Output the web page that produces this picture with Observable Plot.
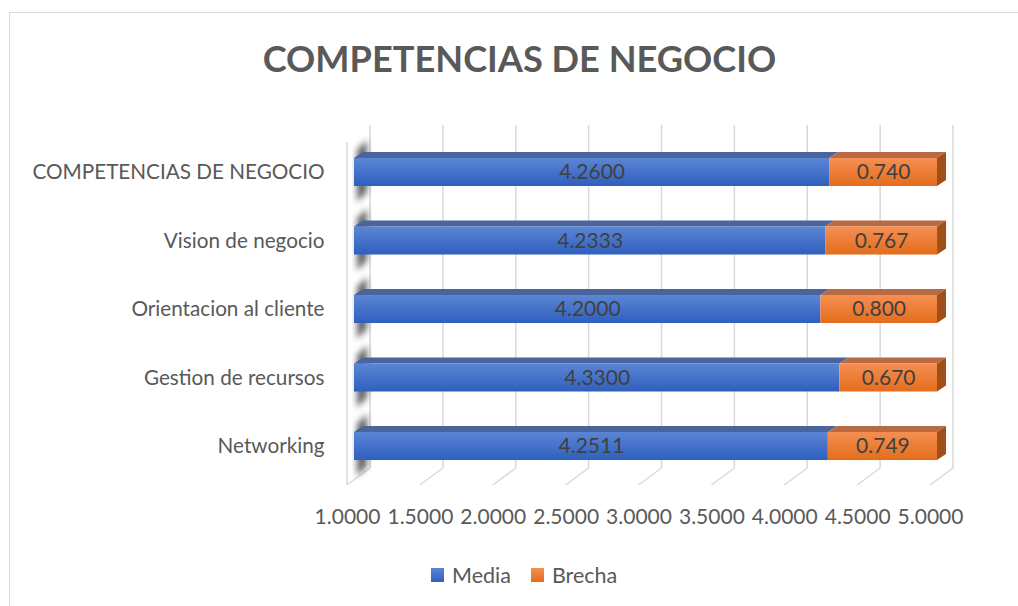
<!DOCTYPE html>
<html><head><meta charset="utf-8">
<script src="https://cdn.jsdelivr.net/npm/d3@7"></script>
<script src="https://cdn.jsdelivr.net/npm/@observablehq/plot@0.6"></script>
<style>
body{margin:0;background:#fff;font-family:Lato,"Liberation Sans",sans-serif;}
#wrap{position:relative;width:1018px;height:606px;overflow:hidden;background:#fff;}
#frame{position:absolute;left:9px;top:12px;width:1100px;height:700px;border-left:1.5px solid #d9d9d9;border-top:1.5px solid #d9d9d9;}
#title{position:absolute;top:35px;left:10px;width:1019px;text-align:center;font-weight:bold;font-size:36.2px;line-height:46px;color:#595959;}
#chart{position:absolute;left:0;top:100px;}
#legend{position:absolute;top:562px;left:431px;display:flex;align-items:center;font-size:21.5px;color:#595959;line-height:26px;}
#legend .sw{display:inline-block;width:13px;height:14px;margin-right:8px;}
#legend .it{display:flex;align-items:center;margin-right:20px;}
</style></head>
<body><div id="wrap"><div id="frame"></div><div id="title">COMPETENCIAS DE NEGOCIO</div><div id="chart"></div><div id="legend"></div></div>
<script>
const categories = ["COMPETENCIAS DE NEGOCIO","Vision de negocio","Orientacion al cliente","Gestion de recursos","Networking"];
const media = [4.2600, 4.2333, 4.2000, 4.3300, 4.2511];
const brecha = [0.740, 0.767, 0.800, 0.670, 0.749];
const seriesNames = ["Media","Brecha"];
const xTicks = [1.0,1.5,2.0,2.5,3.0,3.5,4.0,4.5,5.0];
const axisMin = 1.0, axisMax = 5.0;

const frontGrad = {Media:["#5b86d6","#2f5fbd"], Brecha:["#f58f52","#e36d1c"]};
const topColor = {Media:"#49659c", Brecha:"#b96a42"};
const sideColor = "#a14f19";
const DX = 9, DY = -6;          // bar depth offsets (px)
const WX = 16, WALLTOP = 25, FLOORBACK = 368, FX = -23, FY = 17; // wall geometry (px)

const segs = categories.flatMap((c,i)=>[
  {cat:c, series:"Media", x1:axisMin, x2:media[i], label:d3.format(".4f")(media[i])},
  {cat:c, series:"Brecha", x1:media[i], x2:media[i]+brecha[i], label:d3.format(".3f")(brecha[i])}
]);

function walls(index, scales) {
  const {x, y} = scales;
  const g = d3.create("svg:g");
  for (const t of xTicks) {
    const xb = x(t) + WX;
    g.append("line").attr("x1",xb).attr("x2",xb).attr("y1",WALLTOP).attr("y2",FLOORBACK)
      .attr("stroke","#d9d9d9").attr("stroke-width",1.5);
    g.append("line").attr("x1",xb).attr("x2",xb+FX).attr("y1",FLOORBACK).attr("y2",FLOORBACK+FY)
      .attr("stroke","#d9d9d9").attr("stroke-width",1.5);
  }
  const xl = x(axisMin) + WX;
  g.append("line").attr("x1",xl+FX).attr("x2",xl+FX).attr("y1",WALLTOP+FY).attr("y2",FLOORBACK+FY)
    .attr("stroke","#d9d9d9").attr("stroke-width",1.5);
  const bw = y.bandwidth();
  for (const c of categories) {
    const yt = y(c);
    g.append("path")
      .attr("d",`M${xl-3},${yt-18}L${xl-3},${yt+bw+6}L${xl-13},${yt+bw+16}L${xl-13},${yt-8}Z`)
      .attr("fill","#3a3a3a").attr("opacity",0.8).attr("filter","url(#blur)");
  }
  return g.node();
}

function bars3d(index, scales) {
  const {x, y} = scales;
  const g = d3.create("svg:g");
  const bw = y.bandwidth();
  for (const s of segs) {
    const x1 = x(s.x1), x2 = x(s.x2), yt = y(s.cat), yb = yt + bw;
    g.append("path").attr("d",`M${x1},${yt}L${x1+DX},${yt+DY}L${x2+DX},${yt+DY}L${x2},${yt}Z`)
      .attr("fill", topColor[s.series]);
    if (s.series === "Brecha") {
      g.append("path").attr("d",`M${x2},${yt}L${x2+DX},${yt+DY}L${x2+DX},${yb+DY}L${x2},${yb}Z`)
        .attr("fill", sideColor);
    }
  }
  return g.node();
}

const chart = Plot.plot({
  width: 1018, height: 450,
  marginLeft: 354, marginRight: 81, marginTop: 17.5, marginBottom: 49.5,
  x: {domain:[axisMin, axisMax], axis:null},
  y: {domain: categories, axis:null, padding:0.591, round:false},
  style: {fontFamily:"Lato, 'Liberation Sans', sans-serif", background:"transparent"},
  marks: [
    walls,
    bars3d,
    Plot.barX(segs.filter(d=>d.series==="Media"), {x1:"x1", x2:"x2", y:"cat", fill:"url(#gMedia)"}),
    Plot.barX(segs.filter(d=>d.series==="Brecha"), {x1:"x1", x2:"x2", y:"cat", fill:"url(#gBrecha)"}),
    Plot.text(segs, {x: d=>(d.x1+d.x2)/2, y:"cat", text:"label", fill:"#404040", fontSize:21}),
    Plot.text(categories, {y: d=>d, frameAnchor:"left", dx:-30, textAnchor:"end", text: d=>d, fill:"#595959", fontSize:20.7}),
    Plot.text(xTicks, {x: d=>d, frameAnchor:"bottom", dy:16.5, dx:-7, text: d=>d3.format(".4f")(d), fill:"#595959", fontSize:21, lineAnchor:"middle"})
  ]
});
const svg = d3.select(chart);
const defs = svg.insert("defs", ":first-child");
for (const k of seriesNames) {
  const lg = defs.append("linearGradient").attr("id","g"+k).attr("x1",0).attr("x2",0).attr("y1",0).attr("y2",1);
  lg.append("stop").attr("offset","0%").attr("stop-color",frontGrad[k][0]);
  lg.append("stop").attr("offset","100%").attr("stop-color",frontGrad[k][1]);
}
defs.append("filter").attr("id","blur").attr("x","-50%").attr("y","-50%").attr("width","200%").attr("height","200%")
  .append("feGaussianBlur").attr("stdDeviation",3);
document.getElementById("chart").appendChild(chart);

const leg = d3.select("#legend");
for (const k of seriesNames) {
  const it = leg.append("div").attr("class","it");
  it.append("span").attr("class","sw").style("background",`linear-gradient(${frontGrad[k][0]},${frontGrad[k][1]})`);
  it.append("span").text(k);
}
</script></body></html>
